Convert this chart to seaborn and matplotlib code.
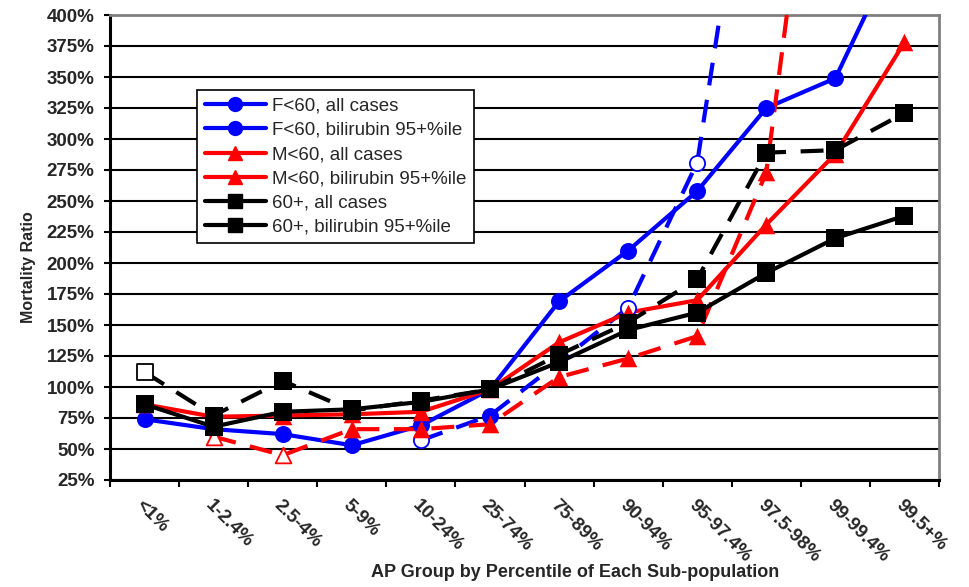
import numpy as np
import pandas as pd
import matplotlib
matplotlib.use("Agg")
import matplotlib.pyplot as plt
from matplotlib.lines import Line2D
import seaborn as sns

# Categories (AP percentile groups)
groups = ["<1%", "1-2.4%", "2.5-4%", "5-9%", "10-24%", "25-74%",
          "75-89%", "90-94%", "95-97.4%", "97.5-98%", "99-99.4%", "99.5+%"]

# Mortality ratios in percent (nan = no point)
nan = np.nan
f60_all = [74, 66, 62, 53, 69, 98, 169, 210, 258, 325, 349, 466]
f60_bili = [nan, nan, nan, nan, 57, 77, 120, 164, 281, 640, nan, nan]
m60_all = [86, 76, 77, 78, 80, 98, 136, 160, 170, 231, 288, 378]
m60_bili = [nan, 60, 45, 66, 66, 70, 108, 123, 141, 273, 700, nan]
old_all = [86, 68, 80, 82, 88, 98, 120, 146, 160, 192, 220, 238]
old_bili = [112, 77, 105, 81, 89, 98, 126, 152, 187, 289, 291, 321]

# points drawn with an open marker in the original
f60_bili_open = [4, 7, 8]
m60_bili_open = [1, 2]
old_bili_open = [0]

series = [
    ("F<60, all cases", f60_all, "#0000ff", "o", False, []),
    ("F<60, bilirubin 95+%ile", f60_bili, "#0000ff", "o", True, f60_bili_open),
    ("M<60, all cases", m60_all, "#ff0000", "^", False, []),
    ("M<60, bilirubin 95+%ile", m60_bili, "#ff0000", "^", True, m60_bili_open),
    ("60+, all cases", old_all, "#000000", "s", False, []),
    ("60+, bilirubin 95+%ile", old_bili, "#000000", "s", True, old_bili_open),
]
msize = {"o": 150, "^": 160, "s": 180}

sns.set_style("white")
plt.rcParams["font.family"] = ["Liberation Sans", "DejaVu Sans"]

fig = plt.figure(figsize=(9.69, 5.87), dpi=100)
ax = fig.add_axes([110 / 969, 1 - 480 / 587, 829 / 969, 465 / 587])

pos = np.arange(len(groups))
handles = []
for name, vals, color, mk, dashed, open_idx in series:
    df = pd.DataFrame({"pos": pos, "val": vals}).dropna()
    sns.lineplot(data=df, x="pos", y="val", color=color, lw=3, ax=ax,
                 legend=False, zorder=3)
    line = ax.lines[-1]
    if dashed:
        line.set_dashes((5.5, 3.5))
    filled = df[~df["pos"].isin(open_idx)]
    hollow = df[df["pos"].isin(open_idx)]
    sns.scatterplot(data=filled, x="pos", y="val", marker=mk, s=msize[mk],
                    color=color, edgecolor=color, linewidth=0, ax=ax,
                    legend=False, zorder=4)
    if len(hollow):
        sns.scatterplot(data=hollow, x="pos", y="val", marker=mk, s=msize[mk] * 0.8,
                        facecolor="white", edgecolor=color, linewidth=1.3, ax=ax,
                        legend=False, zorder=4)
    handles.append(Line2D([], [], color=color, lw=3, marker=mk, markersize=10,
                          label=name))

# axes setup
ax.set_xlim(-0.5, len(groups) - 0.5)
ax.set_ylim(25, 400)
yt = np.arange(25, 401, 25)
ax.set_yticks(yt)
ax.set_yticklabels([f"{v}%" for v in yt], fontsize=13.5, fontweight="bold")
ax.yaxis.grid(True, color="black", lw=1.5)
ax.set_axisbelow(True)

ax.set_xticks(np.arange(-0.5, len(groups)), labels=[])
ax.set_xticks(pos, minor=True)
ax.set_xticklabels(groups, minor=True, rotation=-45, ha="left", va="top",
                   rotation_mode="anchor", fontsize=13.5, fontweight="bold")
ax.tick_params(axis="x", which="major", direction="out", length=5, width=1.5,
               color="black", bottom=True)
ax.tick_params(axis="x", which="minor", length=0, pad=12)
ax.tick_params(axis="y", direction="out", length=4, width=1.5, color="black",
               left=True, pad=7)

for side in ["left", "bottom"]:
    ax.spines[side].set_color("black")
    ax.spines[side].set_linewidth(2.2)
for side in ["top", "right"]:
    ax.spines[side].set_color("#808080")
    ax.spines[side].set_linewidth(2)

ax.set_xlabel("AP Group by Percentile of Each Sub-population", fontsize=13,
              fontweight="bold")
ax.xaxis.set_label_coords((575 - 110) / 829, (480 - 564) / 465)
ax.set_ylabel("Mortality Ratio", fontsize=11.5, fontweight="bold")
ax.yaxis.set_label_coords((36 - 110) / 829, (480 - 267) / 465)

leg = ax.legend(handles=handles, loc="upper left",
                bbox_to_anchor=((197 - 110) / 829, (480 - 90) / 465),
                borderaxespad=0, fontsize=13.5, frameon=True, fancybox=False,
                edgecolor="black", framealpha=1, handlelength=3.3,
                handletextpad=0.3, labelspacing=0.38, borderpad=0.4)
leg.get_frame().set_linewidth(1.2)
leg.set_zorder(6)

fig.savefig("out.png", dpi=100)
